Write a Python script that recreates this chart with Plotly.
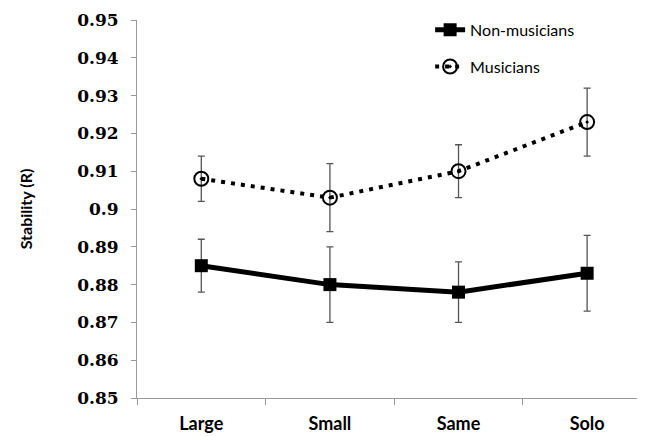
import plotly.graph_objects as go

categories = ["Large", "Small", "Same", "Solo"]
non_musicians = [0.885, 0.880, 0.878, 0.883]
non_err_plus = [0.007, 0.010, 0.008, 0.010]
non_err_minus = [0.007, 0.010, 0.008, 0.010]
musicians = [0.908, 0.903, 0.910, 0.923]
mus_err_plus = [0.006, 0.009, 0.007, 0.009]
mus_err_minus = [0.006, 0.009, 0.007, 0.009]
y_ticks = [0.85, 0.86, 0.87, 0.88, 0.89, 0.90, 0.91, 0.92, 0.93, 0.94, 0.95]
y_ticktext = ["0.85", "0.86", "0.87", "0.88", "0.89", "0.9", "0.91", "0.92", "0.93", "0.94", "0.95"]

err_style = dict(type="data", symmetric=False, color="#555555", thickness=1.3, width=3.5)

fig = go.Figure()
fig.add_trace(go.Scatter(
    x=categories, y=non_musicians, name="Non-musicians", mode="lines+markers",
    line=dict(color="black", width=5),
    marker=dict(symbol="square", size=13, color="black"),
    error_y=dict(array=non_err_plus, arrayminus=non_err_minus, **err_style),
    legendgroup="a",
))
fig.add_trace(go.Scatter(
    x=categories, y=musicians, name="Musicians", mode="lines+markers",
    line=dict(color="black", width=4, dash="4px,6px"),
    marker=dict(symbol="circle-open-dot", size=14, color="black", line=dict(width=2, color="black")),
    error_y=dict(array=mus_err_plus, arrayminus=mus_err_minus, **err_style),
    legendgroup="b",
))

fig.update_layout(
    width=645, height=437,
    margin=dict(l=129, r=8, t=12, b=47, autoexpand=False),
    paper_bgcolor="white", plot_bgcolor="white",
    showlegend=True,
    legend=dict(x=0.577, y=1.019, xanchor="left", yanchor="top",
                font=dict(family="Lato", size=16, color="black"),
                tracegroupgap=13, bgcolor="rgba(0,0,0,0)"),
    xaxis=dict(
        type="category", range=[-0.5, 3.45], automargin=False,
        showline=True, linecolor="#999999", linewidth=1,
        ticks="outside", tickson="boundaries", ticklen=6, tickcolor="#999999",
        showgrid=False, zeroline=False,
        tickfont=dict(family="Lato", size=18, color="black", weight="bold"),
        ticklabelstandoff=9,
    ),
    yaxis=dict(
        range=[0.85, 0.95], automargin=False,
        tickmode="array", tickvals=y_ticks, ticktext=y_ticktext,
        showline=True, linecolor="#999999", linewidth=1,
        ticks="outside", ticklen=5, tickcolor="#999999",
        showgrid=False, zeroline=False,
        tickfont=dict(family="DejaVu Serif", size=17, color="black", weight="bold"),
        ticklabelstandoff=9,
        title=dict(text="Stability (R)", standoff=40,
                   font=dict(family="Lato", size=16, color="black", weight="bold")),
    ),
)

fig.write_html("out.html")
